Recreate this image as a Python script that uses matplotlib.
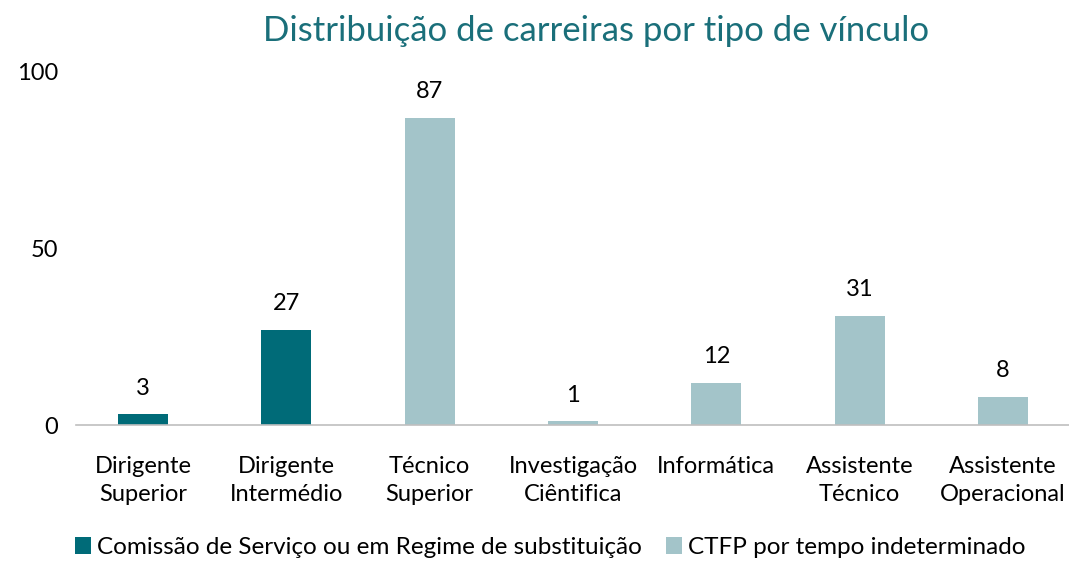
import matplotlib.pyplot as plt

# Data
categories = ['Dirigente\nSuperior', 'Dirigente\nIntermédio', 'Técnico\nSuperior',
              'Investigação\nCiêntifica', 'Informática', 'Assistente\nTécnico',
              'Assistente\nOperacional']
comissao = [3, 27, None, None, None, None, None]
ctfp = [None, None, 87, 1, 12, 31, 8]
series_names = ['Comissão de Serviço ou em Regime de substituição',
                'CTFP por tempo indeterminado']
colors = ['#006B78', '#A3C4C9']

plt.rcParams['font.family'] = ['Lato', 'DejaVu Sans']

fig = plt.figure(figsize=(10.69, 5.61), dpi=100)
ax = fig.add_axes([76 / 1069, 136 / 561, 993 / 1069, 353 / 561])

for vals, name, c in zip([comissao, ctfp], series_names, colors):
    xs = [i for i, v in enumerate(vals) if v is not None]
    ys = [v for v in vals if v is not None]
    bars = ax.bar(xs, ys, width=0.35, color=c, label=name)
    for x, y in zip(xs, ys):
        ax.text(x, y + 4.5, str(y), ha='center', va='bottom', fontsize=17)

ax.set_xlim(-0.467, 6.46)
ax.set_ylim(0, 100)
ax.set_yticks([0, 50, 100])
ax.set_xticks(range(len(categories)))
ax.set_xticklabels(categories, fontsize=17, linespacing=1.45)
ax.tick_params(axis='y', labelsize=17, length=0, pad=13)
ax.tick_params(axis='x', length=0, pad=22)
for s in ['top', 'right', 'left']:
    ax.spines[s].set_visible(False)
ax.spines['bottom'].set_color('#BFBFBF')
ax.spines['bottom'].set_linewidth(1.2)

fig.text(0.558, 0.945, 'Distribuição de carreiras por tipo de vínculo',
         ha='center', va='center', fontsize=25, color='#1A6F7A')

fig.legend(loc='center', bbox_to_anchor=(0.515, 0.024), ncol=2, frameon=False,
           fontsize=17.5, handlelength=0.65, handleheight=0.65, handletextpad=0.25,
           columnspacing=1.0)

fig.savefig('out.png', dpi=100)
